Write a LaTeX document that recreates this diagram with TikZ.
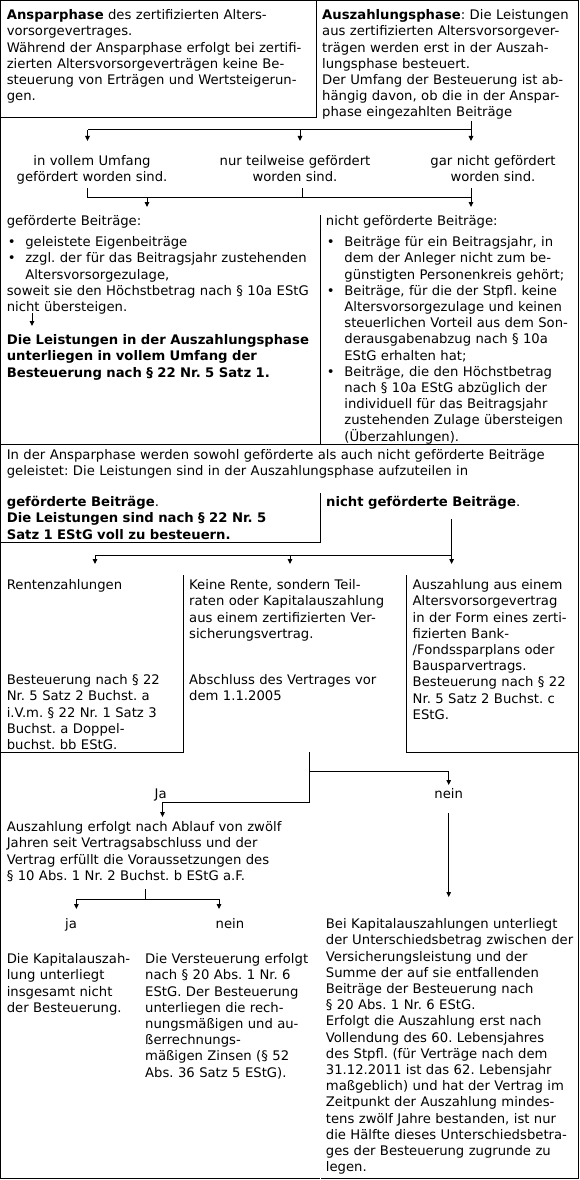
\documentclass[tikz,border=0pt]{standalone}
\usepackage{fontspec}
\setmainfont{DejaVu Sans}
\usetikzlibrary{arrows.meta}
\newcommand{\dfont}{\fontsize{13.2}{16.2}\selectfont\frenchspacing\hyphenpenalty=10000\relax}
\newcommand{\bul}{\makebox[18.5pt][l]{\hspace*{1pt}•}}
\newcommand{\ind}{\hspace*{18.5pt}}
\tikzset{
  txt/.style={anchor=north west, inner sep=0pt, align=left, text width=#1,
    font=\dfont, execute at begin node=\rule{0pt}{12pt}},
  txt/.default=360pt,
  lbl/.style={anchor=north, inner sep=0pt, align=center, text width=220pt,
    font=\dfont, execute at begin node=\rule{0pt}{12pt}},
  frame/.style={line width=1pt, line cap=rect},
  conn/.style={line width=1pt, -{Triangle[length=5pt,width=4.5pt]}},
  plain/.style={line width=1pt}
}
\begin{document}
\begin{tikzpicture}[x=1pt,y=-1pt]
\useasboundingbox (0,0) rectangle (579,1180);
% outer frame
\draw[frame] (0.5,1178.5) -- (0.5,0.5) -- (578.5,0.5) -- (578.5,1178.5);
\draw[frame] (0.5,1178.5) -- (139,1178.5);
\draw[frame] (140.5,1178.5) -- (319.5,1178.5);
\draw[frame] (321,1178.5) -- (578.5,1178.5);
% boxes
\draw[frame] (316,0.5) -- (316,118) -- (0.5,118);
\draw[frame] (320.5,215) -- (320.5,444);
\draw[frame] (0.5,444) -- (578.5,444);
\draw[frame] (320.5,493) -- (320.5,542) -- (0.5,542);
\draw[frame] (183.5,575) -- (183.5,752) -- (0.5,752);
\draw[frame] (406,575) -- (406,752) -- (578.5,752);

% texts
\node[txt] (ansp) at (6.6,7.5) {\textbf{Ansparphase} des zertifizierten Alters-\\
vorsorgevertrages.\\
Während der Ansparphase erfolgt bei zertifi-\\
zierten Altersvorsorgeverträgen keine Be-\\
steuerung von Erträgen und Wertsteigerun-\\
gen.};
\node[txt=300pt] (ausz) at (322,7.5) {\textbf{Auszahlungsphase}: Die Leistungen\\
aus zertifizierten Altersvorsorgever-\\
trägen werden erst in der Auszah-\\
lungsphase besteuert.\\
Der Umfang der Besteuerung ist ab-\\
hängig davon, ob die in der Anspar-\\
phase eingezahlten Beiträge};

\node[lbl] (voll) at (92,153.5) {in vollem Umfang\\gefördert worden sind.};
\node[lbl] (teil) at (295,153.5) {nur teilweise gefördert\\worden sind.};
\node[lbl] (gar) at (493,153.5) {gar nicht gefördert\\worden sind.};

\node[txt] (gef) at (6.6,213.5) {geförderte Beiträge:\\[4.8pt]
\bul geleistete Eigenbeiträge\\
\bul zzgl. der für das Beitragsjahr zustehenden\\
\ind Altersvorsorgezulage,\\
soweit sie den Höchstbetrag nach § 10a EStG\\
nicht übersteigen.};
\node[txt] (gefb) at (6.6,332.5) {\textbf{Die Leistungen in der Auszahlungsphase}\\
\textbf{unterliegen in vollem Umfang der}\\
\textbf{Besteuerung nach § 22 Nr. 5 Satz 1.}};
\node[txt=300pt] (ngef) at (325.7,213.5) {nicht geförderte Beiträge:\\[4.8pt]
\bul Beiträge für ein Beitragsjahr, in\\
\ind dem der Anleger nicht zum be-\\
\ind günstigten Personenkreis gehört;\\
\bul Beiträge, für die der Stpfl. keine\\
\ind Altersvorsorgezulage und keinen\\
\ind steuerlichen Vorteil aus dem Son-\\
\ind derausgabenabzug nach § 10a\\
\ind EStG erhalten hat;\\
\bul Beiträge, die den Höchstbetrag\\
\ind nach § 10a EStG abzüglich der\\
\ind individuell für das Beitragsjahr\\
\ind zustehenden Zulage übersteigen\\
\ind (Überzahlungen).};

\node[txt=600pt] (sowohl) at (6.6,447.5) {In der Ansparphase werden sowohl geförderte als auch nicht geförderte Beiträge\\
geleistet: Die Leistungen sind in der Auszahlungsphase aufzuteilen in};
\node[txt] (gef2) at (6.6,494.5) {\textbf{geförderte Beiträge}.\\
\textbf{Die Leistungen sind nach § 22 Nr. 5}\\
\textbf{Satz 1 EStG voll zu besteuern.}};
\node[txt=300pt] (ngef2) at (326,494.5) {\textbf{nicht geförderte Beiträge}.};

\node[txt=250pt] (rente) at (6.6,577.5) {Rentenzahlungen};
\node[txt=250pt] (rentest) at (6.6,672.5) {Besteuerung nach § 22\\
Nr. 5 Satz 2 Buchst. a\\
i.V.m. § 22 Nr. 1 Satz 3\\
Buchst. a Doppel-\\
buchst. bb EStG.};
\node[txt=260pt] (keine) at (189,577.5) {Keine Rente, sondern Teil-\\
raten oder Kapitalauszahlung\\
aus einem zertifizierten Ver-\\
sicherungsvertrag.};
\node[txt=260pt] (abschl) at (189,672.5) {Abschluss des Vertrages vor\\
dem 1.1.2005};
\node[txt=250pt] (bank) at (412.5,577.5) {Auszahlung aus einem\\
Altersvorsorgevertrag\\
in der Form eines zerti-\\
fizierten Bank-\\
/Fondssparplans oder\\
Bausparvertrags.\\
Besteuerung nach § 22\\
Nr. 5 Satz 2 Buchst. c\\
EStG.};

\node[lbl] (nein1) at (448.7,786.5) {nein};
\node[lbl] (ja1) at (160.6,786.5) {Ja};
\node[txt] (zwoelf) at (6.6,819.5) {Auszahlung erfolgt nach Ablauf von zwölf\\
Jahren seit Vertragsabschluss und der\\
Vertrag erfüllt die Voraussetzungen des\\
§ 10 Abs. 1 Nr. 2 Buchst. b EStG a.F.};
\node[lbl] (ja2) at (71,916.5) {ja};
\node[lbl] (nein2) at (230,916.5) {nein};
\node[txt=250pt] (frei) at (6.6,951.5) {Die Kapitalauszah-\\
lung unterliegt\\
insgesamt nicht\\
der Besteuerung.};
\node[txt=250pt] (verst) at (145,951.5) {Die Versteuerung erfolgt\\
nach § 20 Abs. 1 Nr. 6\\
EStG. Der Besteuerung\\
unterliegen die rech-\\
nungsmäßigen und au-\\
ßerrechnungs-\\
mäßigen Zinsen (§ 52\\
Abs. 36 Satz 5 EStG).};
\node[txt=300pt] (kap) at (325.7,916.5) {Bei Kapitalauszahlungen unterliegt\\
der Unterschiedsbetrag zwischen der\\
Versicherungsleistung und der\\
Summe der auf sie entfallenden\\
Beiträge der Besteuerung nach\\
§ 20 Abs. 1 Nr. 6 EStG.\\
Erfolgt die Auszahlung erst nach\\
Vollendung des 60. Lebensjahres\\
des Stpfl. (für Verträge nach dem\\
31.12.2011 ist das 62. Lebensjahr\\
maßgeblich) und hat der Vertrag im\\
Zeitpunkt der Auszahlung mindes-\\
tens zwölf Jahre bestanden, ist nur\\
die Hälfte dieses Unterschiedsbetra-\\
ges der Besteuerung zugrunde zu\\
legen.};

% connectors section 1
\coordinate (s1) at (471,121);
\coordinate (h1R) at (471,130);
\coordinate (h1L) at (87.5,130);
\coordinate (h1M) at (300,130);
\coordinate (e1L) at (87.5,141);
\coordinate (e1M) at (300,141);
\coordinate (e1R) at (471,141);
\draw[conn] (s1) -- (e1R);
\draw[plain] (h1R) -- (h1L);
\draw[conn] (h1L) -- (e1L);
\draw[conn] (h1M) -- (e1M);
% section 2
\coordinate (u2L) at (87.5,188);
\coordinate (u2M) at (302,188);
\coordinate (u2R) at (471,188);
\coordinate (h2L) at (87.5,197);
\coordinate (h2M) at (302,197);
\coordinate (h2A) at (147,197);
\coordinate (h2R) at (471,197);
\coordinate (e2A) at (147,207);
\coordinate (e2R) at (471,207);
\draw[plain] (u2L) -- (h2L) -- (h2R);
\draw[plain] (u2M) -- (h2M);
\draw[conn] (u2R) -- (e2R);
\draw[conn] (h2A) -- (e2A);
% small arrow
\coordinate (s3) at (32,313);
\coordinate (e3) at (32,326);
\draw[conn] (s3) -- (e3);
% section 4
\coordinate (s4) at (451.6,519);
\coordinate (h4R) at (451.6,555);
\coordinate (h4L) at (95,555);
\coordinate (h4M) at (290,555);
\coordinate (e4L) at (95,564);
\coordinate (e4M) at (290,564);
\coordinate (e4R) at (451.6,564);
\draw[conn] (s4) -- (e4R);
\draw[plain] (h4R) -- (h4L);
\draw[conn] (h4L) -- (e4L);
\draw[conn] (h4M) -- (e4M);
% section 5
\coordinate (s5) at (309.5,752);
\coordinate (j5) at (309.5,771);
\coordinate (k5) at (448.7,771);
\coordinate (e5R) at (448.7,785);
\coordinate (m5) at (309.5,802);
\coordinate (l5) at (162.5,802);
\coordinate (e5L) at (162.5,817);
\draw[plain] (s5) -- (m5);
\draw[conn] (j5) -- (k5) -- (e5R);
\draw[conn] (m5) -- (l5) -- (e5L);
\coordinate (s6) at (448.7,813);
\coordinate (e6) at (448.7,897);
\draw[conn] (s6) -- (e6);
% section 6
\coordinate (s7) at (145,889);
\coordinate (h7) at (145,899);
\coordinate (h7L) at (76.4,899);
\coordinate (h7R) at (219,899);
\coordinate (e7L) at (76.4,909);
\coordinate (e7R) at (219,909);
\draw[plain] (s7) -- (h7);
\draw[conn] (h7) -- (h7L) -- (e7L);
\draw[conn] (h7) -- (h7R) -- (e7R);
\end{tikzpicture}
\end{document}
